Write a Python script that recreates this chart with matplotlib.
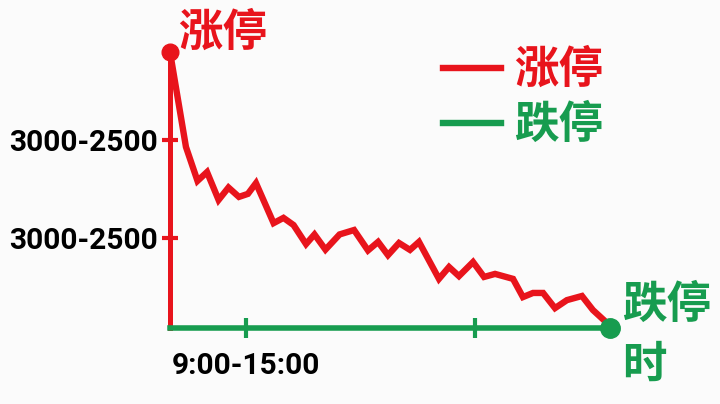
import matplotlib.pyplot as plt
from matplotlib.lines import Line2D

plt.rcParams['font.family'] = ['Roboto', 'Noto Sans CJK SC', 'DejaVu Sans']

RED = '#e8141c'
GREEN = '#179c4f'

# minutes since open (0-240) and level in % of range
minutes = [0, 8.7, 15.0, 20.2, 26.5, 31.9, 37.6, 42.5, 46.9, 56.5, 61.9, 67.4,
           74.2, 78.8, 84.8, 92.5, 100.4, 108.0, 113.5, 118.9, 124.9, 130.9,
           135.8, 146.7, 152.2, 157.6, 165.3, 171.3, 177.3, 187.1, 192.5,
           198.0, 203.5, 210.0, 216.5, 224.7, 230.7, 238.4, 240]
level = [100, 65.6, 53.3, 56.5, 46.4, 50.9, 47.5, 48.6, 52.5, 38.0, 39.9, 37.3,
         30.4, 33.9, 28.4, 33.9, 35.5, 28.1, 31.2, 26.4, 30.8, 28.3, 31.2,
         17.8, 22.1, 18.8, 23.9, 18.5, 19.6, 17.8, 11.2, 12.7, 12.7, 7.2,
         10.1, 11.6, 6.5, 1.8, 0]

ytick_pos = [32.6, 68.1]
ytick_labels = ['3000-2500', '3000-2500']
xtick_pos = [41.5, 166.4]
xtick_labels = ['9:00-15:00', '']

fig = plt.figure(figsize=(7.2, 4.04), dpi=100)
fig.patch.set_facecolor('#fbfbfb')
ax = fig.add_axes([170 / 720, 76 / 404, 440 / 720, 276 / 404])
ax.set_facecolor('none')

ax.plot(minutes, level, color=RED, lw=4.6, solid_joinstyle='miter',
        clip_on=False, zorder=3)
ax.plot(minutes[0], level[0], 'o', color=RED, ms=12, clip_on=False, zorder=4)
ax.plot(minutes[-1], level[-1], 'o', color=GREEN, ms=14, clip_on=False, zorder=4)

ax.set_xlim(0, 240)
ax.set_ylim(0, 100)

for s in ['top', 'right']:
    ax.spines[s].set_visible(False)
ax.spines['left'].set_color(RED)
ax.spines['left'].set_linewidth(3.6)
ax.spines['bottom'].set_color(GREEN)
ax.spines['bottom'].set_linewidth(4)

ax.set_yticks(ytick_pos)
ax.set_yticklabels(ytick_labels, fontsize=21.5, fontweight='bold')
ax.set_xticks(xtick_pos)
ax.set_xticklabels(xtick_labels, fontsize=21.5, fontweight='bold')
ax.tick_params(axis='y', direction='inout', length=11, width=3, color=RED, pad=3)
ax.tick_params(axis='x', direction='inout', length=14, width=3, color=GREEN, pad=10)

cjk = ['Noto Sans CJK SC', 'DejaVu Sans']
ax.text(4.5, 107, '涨停', color=RED, fontsize=32, fontweight='bold', family=cjk,
        ha='left', va='center')
ax.text(246.5, 8.3, '跌停', color=GREEN, fontsize=32, fontweight='bold',
        family=cjk, ha='left', va='center')
ax.text(246.5, -13.4, '时', color=GREEN, fontsize=32, fontweight='bold',
        family=cjk, ha='left', va='center')

handles = [Line2D([], [], color=RED, lw=4.6), Line2D([], [], color=GREEN, lw=4.6)]
leg = ax.legend(handles, ['涨停', '跌停'], loc='upper right',
                bbox_to_anchor=(1.055, 1.13), frameon=False, handlelength=1.3,
                handletextpad=0.3, labelspacing=0.2, borderpad=0.2,
                prop={'family': cjk, 'size': 32, 'weight': 'bold'})
for t, c in zip(leg.get_texts(), [RED, GREEN]):
    t.set_color(c)

fig.savefig('out.png', dpi=100, facecolor=fig.get_facecolor())
